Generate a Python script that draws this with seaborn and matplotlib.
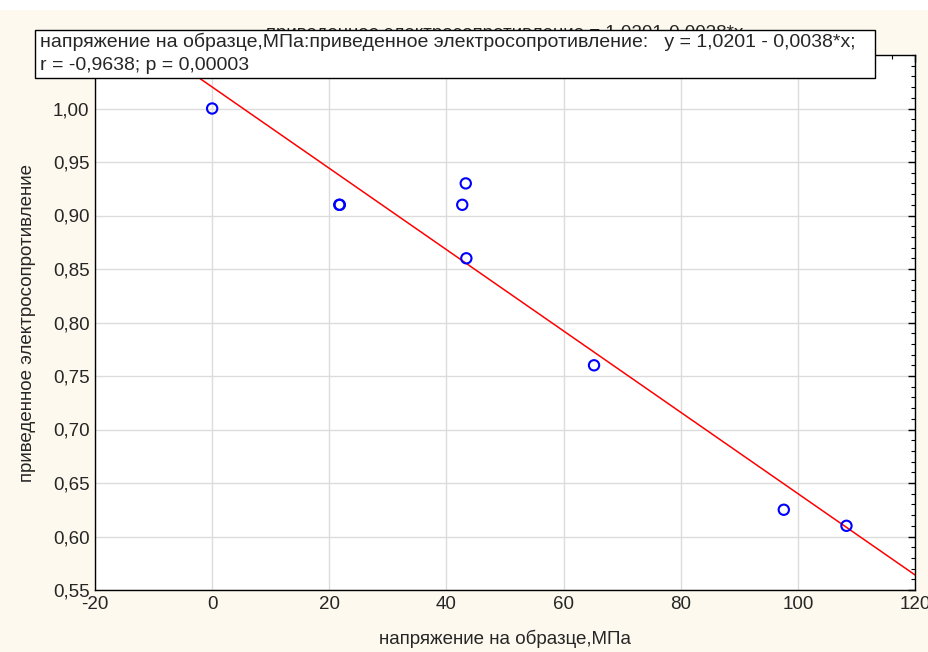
import numpy as np
import pandas as pd
import matplotlib
matplotlib.use('Agg')
import matplotlib.pyplot as plt
import matplotlib.ticker as mticker
from matplotlib.patches import Rectangle
import seaborn as sns

# values
stress = [0.0, 21.7, 21.8, 42.7, 43.3, 43.4, 65.2, 97.6, 108.3]   # напряжение, МПа
resist = [1.00, 0.91, 0.91, 0.91, 0.93, 0.86, 0.76, 0.625, 0.61]  # приведенное электросопротивление
intercept, slope = 1.0201, -0.0038
x_ticks = [-20, 0, 20, 40, 60, 80, 100, 120]
y_ticks = [0.55, 0.60, 0.65, 0.70, 0.75, 0.80, 0.85, 0.90, 0.95, 1.00]  # 1,05 sits under the legend box

df = pd.DataFrame({'x': stress, 'y': resist})

sns.set_style('white')
plt.rcParams['font.family'] = ['Liberation Sans', 'DejaVu Sans']

fig = plt.figure(figsize=(9.29, 6.52), dpi=100)
fig.patch.set_facecolor('#fdf9ee')
# white strip along the top edge
fig.patches.append(Rectangle((0, 1 - 10/652), 1, 10/652, transform=fig.transFigure,
                             facecolor='white', edgecolor='none', zorder=0))
ax = fig.add_axes([95/929, 1 - 590/652, 820/929, 535/652])
ax.set_facecolor('white')

ax.set_xlim(-20, 120)
ax.set_ylim(0.55, 1.05)

xl = np.array([-20, 120])
ax.plot(xl, intercept + slope * xl, color='red', lw=1.1, zorder=2)
sns.scatterplot(data=df, x='x', y='y', ax=ax, marker='o', s=55,
                facecolor='none', edgecolor='blue', linewidth=1.5, zorder=3)

ax.set_xticks(x_ticks)
ax.set_yticks(y_ticks)
ax.xaxis.set_major_formatter(mticker.FuncFormatter(lambda v, p: f'{v:.0f}'))
ax.yaxis.set_major_formatter(mticker.FuncFormatter(lambda v, p: f'{v:.2f}'.replace('.', ',')))
ax.xaxis.set_minor_locator(mticker.MultipleLocator(4))
ax.yaxis.set_minor_locator(mticker.MultipleLocator(0.01))
ax.tick_params(which='both', direction='in', top=True, right=True, color='black')
ax.tick_params(which='major', length=5, width=1, labelsize=13.5, pad=4)
ax.tick_params(which='minor', length=3, width=0.8)
ax.grid(True, which='major', color='#dcdcdc', lw=1)
ax.set_axisbelow(True)
for s in ax.spines.values():
    s.set_color('black')
    s.set_linewidth(1)

ax.set_xlabel('напряжение на образце,МПа', fontsize=13.5, labelpad=12)
ax.set_ylabel('приведенное электросопротивление', fontsize=13.5, labelpad=12)
ax.set_title('приведенное электросопротивление = 1,0201-0,0038*x', fontsize=13.5, pad=12)

# legend box on top of the title
fig.patches.append(Rectangle((35/929, 1 - 78/652), 840/929, 48/652, transform=fig.transFigure,
                             facecolor='white', edgecolor='black', lw=1, zorder=5))
fig.text(40/929, 1 - 42/652,
         'напряжение на образце,МПа:приведенное электросопротивление:   y = 1,0201 - 0,0038*x;',
         fontsize=14, va='center', ha='left', zorder=6)
fig.text(40/929, 1 - 65/652, 'r = -0,9638; p = 0,00003',
         fontsize=14, va='center', ha='left', zorder=6)

fig.savefig('out.png', dpi=100, facecolor=fig.get_facecolor())
